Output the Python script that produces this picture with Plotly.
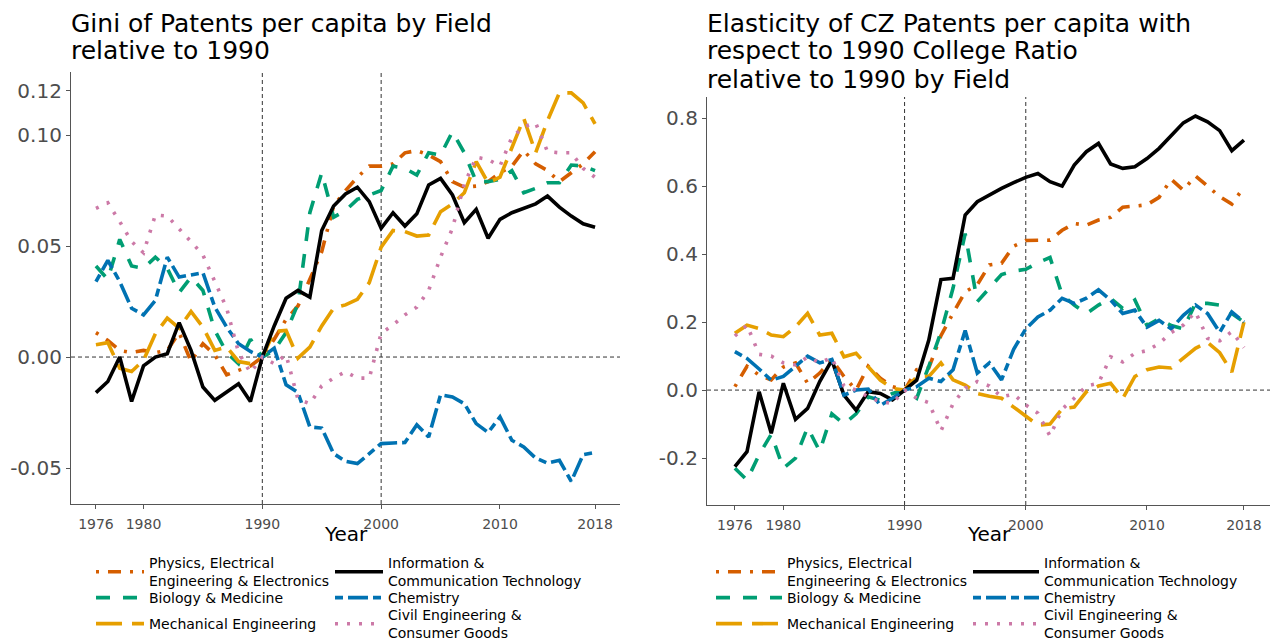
import plotly.graph_objects as go

years = list(range(1976, 2019))

fields = [
    "Physics, Electrical<br>Engineering & Electronics",
    "Biology & Medicine",
    "Mechanical Engineering",
    "Information &<br>Communication Technology",
    "Chemistry",
    "Civil Engineering &<br>Consumer Goods",
]

# ---- Left panel: Gini of patents per capita relative to 1990 ----
gini_physics = [0.011, 0.0075, 0.003, 0.002, 0.003, 0.002, 0.003, 0.011, -0.002, 0.006,
                0.001, -0.008, -0.006, -0.004, 0.0, 0.008, 0.017, 0.023, 0.035, 0.0475,
                0.068, 0.075, 0.081, 0.086, 0.086, 0.087, 0.092, 0.093, 0.091, 0.088,
                0.079, 0.0765, 0.077, 0.079, 0.083, 0.086, 0.093, 0.087, 0.084, 0.079,
                0.083, 0.087, 0.0925]
gini_biology = [0.041, 0.035, 0.053, 0.041, 0.040, 0.045, 0.040, 0.029, 0.036, 0.030,
                0.012, 0.002, -0.003, 0.008, 0.0, 0.003, 0.011, 0.024, 0.065, 0.083,
                0.063, 0.066, 0.071, 0.073, 0.075, 0.086, 0.085, 0.082, 0.092, 0.091,
                0.1015, 0.092, 0.079, 0.079, 0.080, 0.084, 0.074, 0.076, 0.0785, 0.0785,
                0.0865, 0.086, 0.084]
gini_mechanical = [0.0055, 0.0065, -0.005, -0.0065, -0.0015, 0.0105, 0.0175, 0.013, 0.0205, 0.0135,
                   0.003, 0.0045, -0.002, -0.003, 0.0, 0.0115, 0.012, -0.0005, 0.0045, 0.014,
                   0.022, 0.0235, 0.026, 0.0335, 0.0495, 0.057, 0.0565, 0.0545, 0.055, 0.0655,
                   0.069, 0.074, 0.088, 0.0785, 0.081, 0.094, 0.1075, 0.092, 0.1065, 0.119,
                   0.119, 0.1145, 0.105]
gini_ict = [-0.016, -0.011, 0.0, -0.020, -0.004, 0.0, 0.0015, 0.0155, 0.003, -0.0135,
            -0.0195, -0.0155, -0.012, -0.020, 0.0, 0.014, 0.0265, 0.030, 0.027, 0.057,
            0.068, 0.0735, 0.0765, 0.070, 0.058, 0.065, 0.059, 0.0645, 0.0775, 0.0805,
            0.073, 0.0605, 0.0665, 0.0535, 0.062, 0.065, 0.067, 0.069, 0.0725, 0.0675,
            0.0635, 0.060, 0.0585]
gini_chemistry = [0.034, 0.0435, 0.034, 0.022, 0.019, 0.0255, 0.045, 0.036, 0.037, 0.038,
                  0.0225, 0.0135, 0.006, 0.0025, 0.0, 0.004, -0.0125, -0.016, -0.0315, -0.032,
                  -0.0435, -0.047, -0.048, -0.0435, -0.039, -0.0387, -0.0385, -0.0305, -0.036, -0.017,
                  -0.018, -0.021, -0.030, -0.034, -0.027, -0.0375, -0.0405, -0.0455, -0.0478, -0.0465,
                  -0.056, -0.044, -0.043]
gini_civil = [0.067, 0.0695, 0.061, 0.052, 0.047, 0.064, 0.0635, 0.058, 0.052, 0.046,
              0.034, 0.022, 0.002, -0.007, 0.0, -0.003, 0.001, -0.019, -0.021, -0.013,
              -0.0095, -0.0066, -0.0095, -0.0095, 0.0107, 0.0144, 0.019, 0.0225, 0.030, 0.045,
              0.058, 0.078, 0.090, 0.089, 0.086, 0.099, 0.1037, 0.1055, 0.0925, 0.092,
              0.092, 0.085, 0.081]

# ---- Right panel: elasticity w.r.t. 1990 college ratio, relative to 1990 ----
el_physics = [0.01, 0.07, 0.044, 0.03, 0.068, 0.08, 0.02, 0.05, 0.09, 0.04,
              0.0, 0.07, 0.035, 0.01, 0.0, 0.06, 0.065, 0.16, 0.226, 0.289,
              0.31, 0.368, 0.373, 0.4235, 0.44, 0.441, 0.441, 0.47, 0.49, 0.485,
              0.50, 0.508, 0.538, 0.541, 0.545, 0.567, 0.62, 0.588, 0.63, 0.60,
              0.569, 0.547, 0.597]
el_biology = [-0.23, -0.265, -0.19, -0.13, -0.23, -0.2, -0.11, -0.18, -0.07, -0.1,
              -0.07, -0.02, -0.03, -0.01, 0.0, -0.024, 0.07, 0.17, 0.3, 0.46,
              0.26, 0.3, 0.34, 0.35, 0.355, 0.375, 0.39, 0.28, 0.25, 0.225,
              0.25, 0.27, 0.24, 0.265, 0.19, 0.21, 0.19, 0.18, 0.255, 0.255,
              0.25, 0.225, 0.2]
el_mechanical = [0.167, 0.191, 0.181, 0.162, 0.157, 0.186, 0.2255, 0.162, 0.167, 0.098,
                 0.108, 0.069, 0.029, 0.005, 0.0, 0.039, 0.04, 0.08, 0.03, 0.015,
                 -0.01, -0.018, -0.024, -0.05, -0.075, -0.103, -0.1, -0.055, -0.05, -0.005,
                 0.012, 0.02, -0.025, 0.04, 0.06, 0.068, 0.065, 0.095, 0.123, 0.14,
                 0.11, 0.053, 0.2]
el_ict = [-0.225, -0.181, -0.005, -0.127, 0.02, -0.086, -0.054, 0.025, 0.088, -0.015,
          -0.059, -0.005, -0.01, -0.029, 0.0, 0.029, 0.147, 0.325, 0.3285, 0.515,
          0.554, 0.575, 0.593, 0.61, 0.6255, 0.637, 0.613, 0.60, 0.662, 0.701,
          0.7255, 0.665, 0.652, 0.657, 0.681, 0.711, 0.75, 0.786, 0.806, 0.789,
          0.763, 0.704, 0.735]
el_chemistry = [0.113, 0.093, 0.062, 0.029, 0.04, 0.069, 0.10, 0.08, 0.09, -0.015,
                0.0, 0.003, -0.045, -0.024, 0.0, 0.01, 0.035, 0.025, 0.06, 0.175,
                0.05, 0.08, 0.03, 0.12, 0.18, 0.215, 0.235, 0.27, 0.255, 0.27,
                0.295, 0.265, 0.225, 0.235, 0.185, 0.205, 0.18, 0.22, 0.25, 0.225,
                0.17, 0.23, 0.2]
el_civil = [0.159, 0.191, 0.105, 0.1, 0.08, 0.074, 0.097, 0.08, 0.096, 0.012,
            0.0, -0.02, -0.034, -0.039, 0.0, -0.024, -0.037, -0.12, -0.04, 0.006,
            0.025, 0.012, -0.02, -0.012, -0.044, -0.068, -0.135, -0.056, -0.024, 0.012,
            0.02, 0.098, 0.083, 0.108, 0.116, 0.137, 0.169, 0.191, 0.23, 0.152,
            0.145, 0.172, 0.125]

left_series = [gini_physics, gini_biology, gini_mechanical, gini_ict, gini_chemistry, gini_civil]
right_series = [el_physics, el_biology, el_mechanical, el_ict, el_chemistry, el_civil]

colors = ["#D55E00", "#009E73", "#E69F00", "#000000", "#0072B2", "#CC79A7"]
dashes = ["3px,9px,13px,9px", "14px,13px", "26px,10px", "solid", "8px,5px,20px,5px", "3px,9px"]

x_ticks = [1976, 1980, 1990, 2000, 2010, 2018]
left_yticks = [-0.05, 0.0, 0.05, 0.10, 0.12]
left_yticklabels = ["-0.05", "0.00", "0.05", "0.10", "0.12"]
right_yticks = [-0.2, 0.0, 0.2, 0.4, 0.6, 0.8]
right_yticklabels = ["-0.2", "0.0", "0.2", "0.4", "0.6", "0.8"]
ref_years = [1990, 2000]

left_title = ["Gini of Patents per capita by Field", "relative to 1990"]
right_title = ["Elasticity of CZ Patents per capita with",
               "respect to 1990 College Ratio",
               "relative to 1990 by Field"]
x_title = "Year"

W, H = 1278, 643
FONT = "DejaVu Sans"

fig = go.Figure()

# legend grid: (col, row) for each field
grid = [(0, 0), (0, 1), (0, 2), (1, 0), (1, 1), (1, 2)]
row_y = [572, 598, 624]
panels = [
    dict(series=left_series, xa="x", ya="y", col_x=[96, 335], itemwidth=48, leg_offset=0),
    dict(series=right_series, xa="x2", ya="y2", col_x=[716, 973], itemwidth=66, leg_offset=6),
]

legends = {}
for p in panels:
    for i, (name, vals) in enumerate(zip(fields, p["series"])):
        idx = p["leg_offset"] + i + 1
        lname = "legend" if idx == 1 else f"legend{idx}"
        fig.add_trace(go.Scatter(
            x=years, y=vals, mode="lines", name=name,
            line=dict(color=colors[i], width=3.6, dash=dashes[i]),
            xaxis=p["xa"], yaxis=p["ya"], legend=lname, showlegend=True,
        ))
        c, r = grid[i]
        legends[lname] = dict(
            x=(p["col_x"][c] - 5) / W, y=1 - row_y[r] / H,
            xanchor="left", yanchor="middle", orientation="v",
            bgcolor="rgba(0,0,0,0)", borderwidth=0,
            itemwidth=p["itemwidth"],
            font=dict(family=FONT, size=14, color="black"),
        )

axis_common = dict(
    showgrid=False, zeroline=False, showline=True, linecolor="#555555", linewidth=1.2,
    ticks="outside", ticklen=4, tickcolor="#555555", tickwidth=1, automargin=False,
)

fig.update_layout(
    width=W, height=H,
    margin=dict(l=0, r=0, t=0, b=0, autoexpand=False),
    paper_bgcolor="white", plot_bgcolor="white",
    font=dict(family=FONT),
    xaxis=dict(domain=[71 / W, 620 / W], range=[1973.9, 2020.1], anchor="y",
               tickvals=x_ticks, tickfont=dict(size=14, color="#4D4D4D"),
               ticklabelstandoff=3, **axis_common),
    yaxis=dict(domain=[1 - 504 / H, 1 - 72 / H], range=[-0.0662, 0.1284], anchor="x",
               tickvals=left_yticks, ticktext=left_yticklabels,
               tickfont=dict(size=20, color="#4D4D4D"), **axis_common),
    xaxis2=dict(domain=[707 / W, 1270 / W], range=[1973.7, 2020.15], anchor="y2",
                tickvals=x_ticks, tickfont=dict(size=14, color="#4D4D4D"),
                ticklabelstandoff=3, **axis_common),
    yaxis2=dict(domain=[1 - 505 / H, 1 - 97 / H], range=[-0.338, 0.862], anchor="x2",
                tickvals=right_yticks, ticktext=right_yticklabels,
                tickfont=dict(size=20, color="#4D4D4D"), **axis_common),
    **legends,
)

# reference lines
for xa, ya in [("x", "y"), ("x2", "y2")]:
    for ry in ref_years:
        fig.add_shape(type="line", xref=xa, yref=f"{ya} domain", x0=ry, x1=ry, y0=0, y1=1,
                      line=dict(color="#333333", width=1, dash="4px,3px"), layer="below")
    fig.add_shape(type="line", xref=f"{xa} domain", yref=ya, x0=0, x1=1, y0=0, y1=0,
                  line=dict(color="#333333", width=1, dash="4px,3px"), layer="below")
    # x-axis title
    fig.add_annotation(text=x_title, xref=f"{xa} domain", yref="paper", x=0.5, y=1 - 534 / H,
                       xanchor="center", yanchor="middle", showarrow=False,
                       font=dict(family=FONT, size=20, color="black"))

# titles (one annotation per line for tighter line spacing)
title_line_y = [23, 51, 79]
for lines, x0 in [(left_title, 71), (right_title, 707)]:
    for k, txt in enumerate(lines):
        fig.add_annotation(text=txt, xref="paper", yref="paper",
                           x=(x0 - 2) / W, y=1 - title_line_y[k] / H,
                           xanchor="left", yanchor="middle", align="left", showarrow=False,
                           font=dict(family=FONT, size=25, color="black"))

fig.write_html("out.html", config={"displayModeBar": False},
               post_script="document.body.style.margin='0px';")
